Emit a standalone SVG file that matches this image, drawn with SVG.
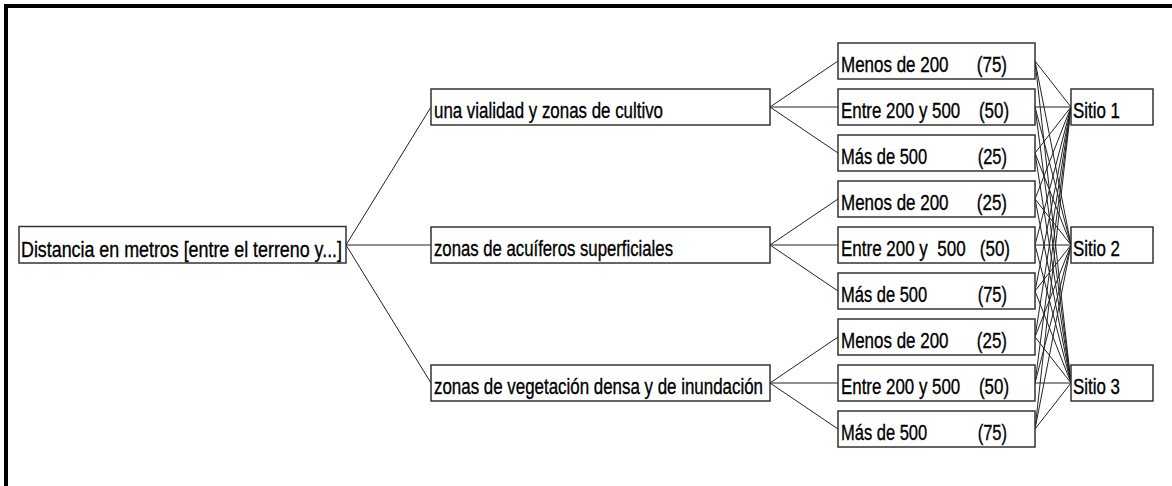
<svg xmlns="http://www.w3.org/2000/svg" width="1172" height="486" viewBox="0 0 1172 486">
<style>
.box{fill:#fff;stroke:#333;stroke-width:1.5}
.t{font-family:"Liberation Sans Narrow","Liberation Sans",Arial,sans-serif;font-size:22px;fill:#000;stroke:#000;stroke-width:0.35}
.c line{stroke:#222;stroke-width:1}
</style>
<rect width="1172" height="486" fill="#fff"/>
<path d="M6,486 V6 H1172" fill="none" stroke="#000" stroke-width="4"/>
<g class="c" id="connectors">
<line x1="346" y1="245" x2="431" y2="107"/>
<line x1="346" y1="245" x2="431" y2="245"/>
<line x1="346" y1="245" x2="431" y2="383"/>
<line x1="770" y1="107" x2="838" y2="61"/>
<line x1="770" y1="107" x2="838" y2="107"/>
<line x1="770" y1="107" x2="838" y2="153"/>
<line x1="770" y1="245" x2="838" y2="199"/>
<line x1="770" y1="245" x2="838" y2="245"/>
<line x1="770" y1="245" x2="838" y2="291"/>
<line x1="770" y1="383" x2="838" y2="337"/>
<line x1="770" y1="383" x2="838" y2="383"/>
<line x1="770" y1="383" x2="838" y2="429"/>
<line x1="1035" y1="61" x2="1071" y2="107"/><line x1="1035" y1="61" x2="1071" y2="245"/><line x1="1035" y1="61" x2="1071" y2="383"/>
<line x1="1035" y1="107" x2="1071" y2="107"/><line x1="1035" y1="107" x2="1071" y2="245"/><line x1="1035" y1="107" x2="1071" y2="383"/>
<line x1="1035" y1="153" x2="1071" y2="107"/><line x1="1035" y1="153" x2="1071" y2="245"/><line x1="1035" y1="153" x2="1071" y2="383"/>
<line x1="1035" y1="199" x2="1071" y2="107"/><line x1="1035" y1="199" x2="1071" y2="245"/><line x1="1035" y1="199" x2="1071" y2="383"/>
<line x1="1035" y1="245" x2="1071" y2="107"/><line x1="1035" y1="245" x2="1071" y2="245"/><line x1="1035" y1="245" x2="1071" y2="383"/>
<line x1="1035" y1="291" x2="1071" y2="107"/><line x1="1035" y1="291" x2="1071" y2="245"/><line x1="1035" y1="291" x2="1071" y2="383"/>
<line x1="1035" y1="337" x2="1071" y2="107"/><line x1="1035" y1="337" x2="1071" y2="245"/><line x1="1035" y1="337" x2="1071" y2="383"/>
<line x1="1035" y1="383" x2="1071" y2="107"/><line x1="1035" y1="383" x2="1071" y2="245"/><line x1="1035" y1="383" x2="1071" y2="383"/>
<line x1="1035" y1="429" x2="1071" y2="107"/><line x1="1035" y1="429" x2="1071" y2="245"/><line x1="1035" y1="429" x2="1071" y2="383"/>
</g>
<g id="root"><rect class="box" x="19" y="226.5" width="327" height="36.5"/><text class="t" x="21" y="256.5" textLength="321" lengthAdjust="spacingAndGlyphs">Distancia en metros [entre el terreno y...]</text></g>
<g id="l1a"><rect class="box" x="431" y="89" width="339" height="36"/><text class="t" x="434" y="117.5" textLength="229" lengthAdjust="spacingAndGlyphs">una vialidad y zonas de cultivo</text></g>
<g id="l1b"><rect class="box" x="431" y="227" width="339" height="36"/><text class="t" x="434" y="255.5" textLength="239" lengthAdjust="spacingAndGlyphs">zonas de acuíferos superficiales</text></g>
<g id="l1c"><rect class="box" x="431" y="365" width="339" height="36"/><text class="t" x="434" y="393.5" textLength="329" lengthAdjust="spacingAndGlyphs">zonas de vegetación densa y de inundación</text></g>
<g id="a1"><rect class="box" x="838" y="43" width="197" height="36"/><text class="t" x="841" y="71.5" xml:space="preserve" textLength="166" lengthAdjust="spacingAndGlyphs">Menos de 200      (75)</text></g>
<g id="a2"><rect class="box" x="838" y="89" width="197" height="36"/><text class="t" x="841" y="117.5" xml:space="preserve" textLength="168" lengthAdjust="spacingAndGlyphs">Entre 200 y 500    (50)</text></g>
<g id="a3"><rect class="box" x="838" y="135" width="197" height="36"/><text class="t" x="841" y="163.5" xml:space="preserve" textLength="166" lengthAdjust="spacingAndGlyphs">Más de 500           (25)</text></g>
<g id="b1"><rect class="box" x="838" y="181" width="197" height="36"/><text class="t" x="841" y="209.5" xml:space="preserve" textLength="166" lengthAdjust="spacingAndGlyphs">Menos de 200      (25)</text></g>
<g id="b2"><rect class="box" x="838" y="227" width="197" height="36"/><text class="t" x="841" y="255.5" xml:space="preserve" textLength="169" lengthAdjust="spacingAndGlyphs">Entre 200 y  500   (50)</text></g>
<g id="b3"><rect class="box" x="838" y="273" width="197" height="36"/><text class="t" x="841" y="301.5" xml:space="preserve" textLength="166" lengthAdjust="spacingAndGlyphs">Más de 500           (75)</text></g>
<g id="c1"><rect class="box" x="838" y="319" width="197" height="36"/><text class="t" x="841" y="347.5" xml:space="preserve" textLength="166" lengthAdjust="spacingAndGlyphs">Menos de 200      (25)</text></g>
<g id="c2"><rect class="box" x="838" y="365" width="197" height="36"/><text class="t" x="841" y="393.5" xml:space="preserve" textLength="168" lengthAdjust="spacingAndGlyphs">Entre 200 y 500    (50)</text></g>
<g id="c3"><rect class="box" x="838" y="411" width="197" height="36"/><text class="t" x="841" y="439.5" xml:space="preserve" textLength="166" lengthAdjust="spacingAndGlyphs">Más de 500           (75)</text></g>
<g id="s1"><rect class="box" x="1071" y="89" width="82" height="36"/><text class="t" x="1073" y="117.5" textLength="47" lengthAdjust="spacingAndGlyphs">Sitio 1</text></g>
<g id="s2"><rect class="box" x="1071" y="227" width="82" height="36"/><text class="t" x="1073" y="255.5" textLength="47" lengthAdjust="spacingAndGlyphs">Sitio 2</text></g>
<g id="s3"><rect class="box" x="1071" y="365" width="82" height="36"/><text class="t" x="1073" y="393.5" textLength="47" lengthAdjust="spacingAndGlyphs">Sitio 3</text></g>
</svg>
